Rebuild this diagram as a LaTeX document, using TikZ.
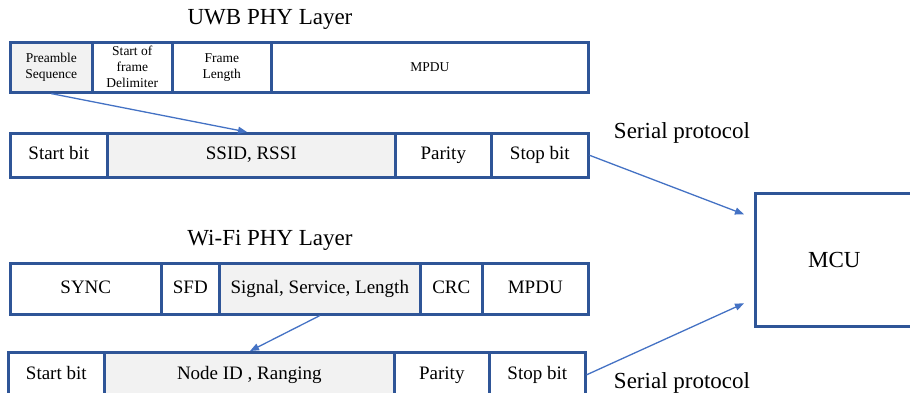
\documentclass[tikz,border=0pt]{standalone}
\usepackage{fontspec}
\setmainfont{Liberation Serif}
\usetikzlibrary{arrows.meta,calc}
\definecolor{boxblue}{RGB}{47,85,151}
\definecolor{arrowblue}{RGB}{68,114,196}
\definecolor{cellgray}{RGB}{242,242,242}
\newcommand\mycell[7]{\node[cell,#6,minimum width=#3-#2,minimum height=#5-#4] (#1) at (#2,#4) {#7};}
\begin{document}
\begin{tikzpicture}[x=1pt,y=-1pt,
  cell/.style={draw=boxblue,line width=2.6pt,fill=white,inner sep=0pt,anchor=north west,align=center,font=\fontsize{19}{22}\selectfont},
  small/.style={font=\fontsize{13.5}{16}\selectfont},
  one/.style={text height=13pt,text depth=4pt},
  graycell/.style={fill=cellgray},
  link/.style={draw=arrowblue,line width=1.3pt,-{Triangle[length=9pt,width=7pt]}},
  title/.style={font=\fontsize{23}{26}\selectfont,inner sep=0pt}]
\useasboundingbox (0,0) rectangle (910,392);
% UWB
\node[title] (uwbt) at (270,19) {UWB PHY Layer};
\mycell{pre}{9}{91}{41}{91}{graycell,small}{Preamble\\Sequence}
\mycell{sof}{91}{171}{41}{91}{small}{Start of\\frame\\Delimiter}
\mycell{fl}{171}{270}{41}{91}{small}{Frame\\Length}
\mycell{mpduA}{270}{587}{41}{91}{small}{MPDU}
\mycell{sbA}{9}{106}{132}{176}{one}{Start bit}
\mycell{ssid}{106}{394}{132}{176}{one,graycell}{SSID, RSSI}
\mycell{parA}{394}{490}{132}{176}{one}{Parity}
\mycell{stopA}{490}{587}{132}{176}{one}{Stop bit}
% Wi-Fi
\node[title] (wifit) at (270,240) {Wi-Fi PHY Layer};
\mycell{sync}{9}{160}{262}{313}{one}{SYNC}
\mycell{sfd}{160}{218}{262}{313}{one}{SFD}
\mycell{sig}{218}{419}{262}{313}{one,graycell}{Signal, Service, Length}
\mycell{crc}{419}{481}{262}{313}{one}{CRC}
\mycell{mpduB}{481}{587}{262}{313}{one}{MPDU}
\mycell{sbB}{7}{103}{351}{396}{one}{Start bit}
\mycell{nid}{103}{393}{351}{396}{one,graycell}{Node ID , Ranging}
\mycell{parB}{393}{488}{351}{396}{one}{Parity}
\mycell{stopB}{488}{584}{351}{396}{one}{Stop bit}
% MCU
\mycell{mcu}{754}{912}{192}{325}{font=\fontsize{23}{26}\selectfont}{MCU}
\node[title] (spA) at (682,133) {Serial protocol};
\node[title] (spB) at (682,383) {Serial protocol};
% arrows
\draw[link] (pre.south) -- ($(ssid.north west)+(141,0)$);
\draw[link] (sig.south) -- ($(nid.north west)+(147,0)$);
\draw[link] (stopA.east) -- ($(mcu.west)+(-10,-45.5)$);
\draw[link] (stopB.east) -- ($(mcu.west)+(-10,43.5)$);
\end{tikzpicture}
\end{document}
